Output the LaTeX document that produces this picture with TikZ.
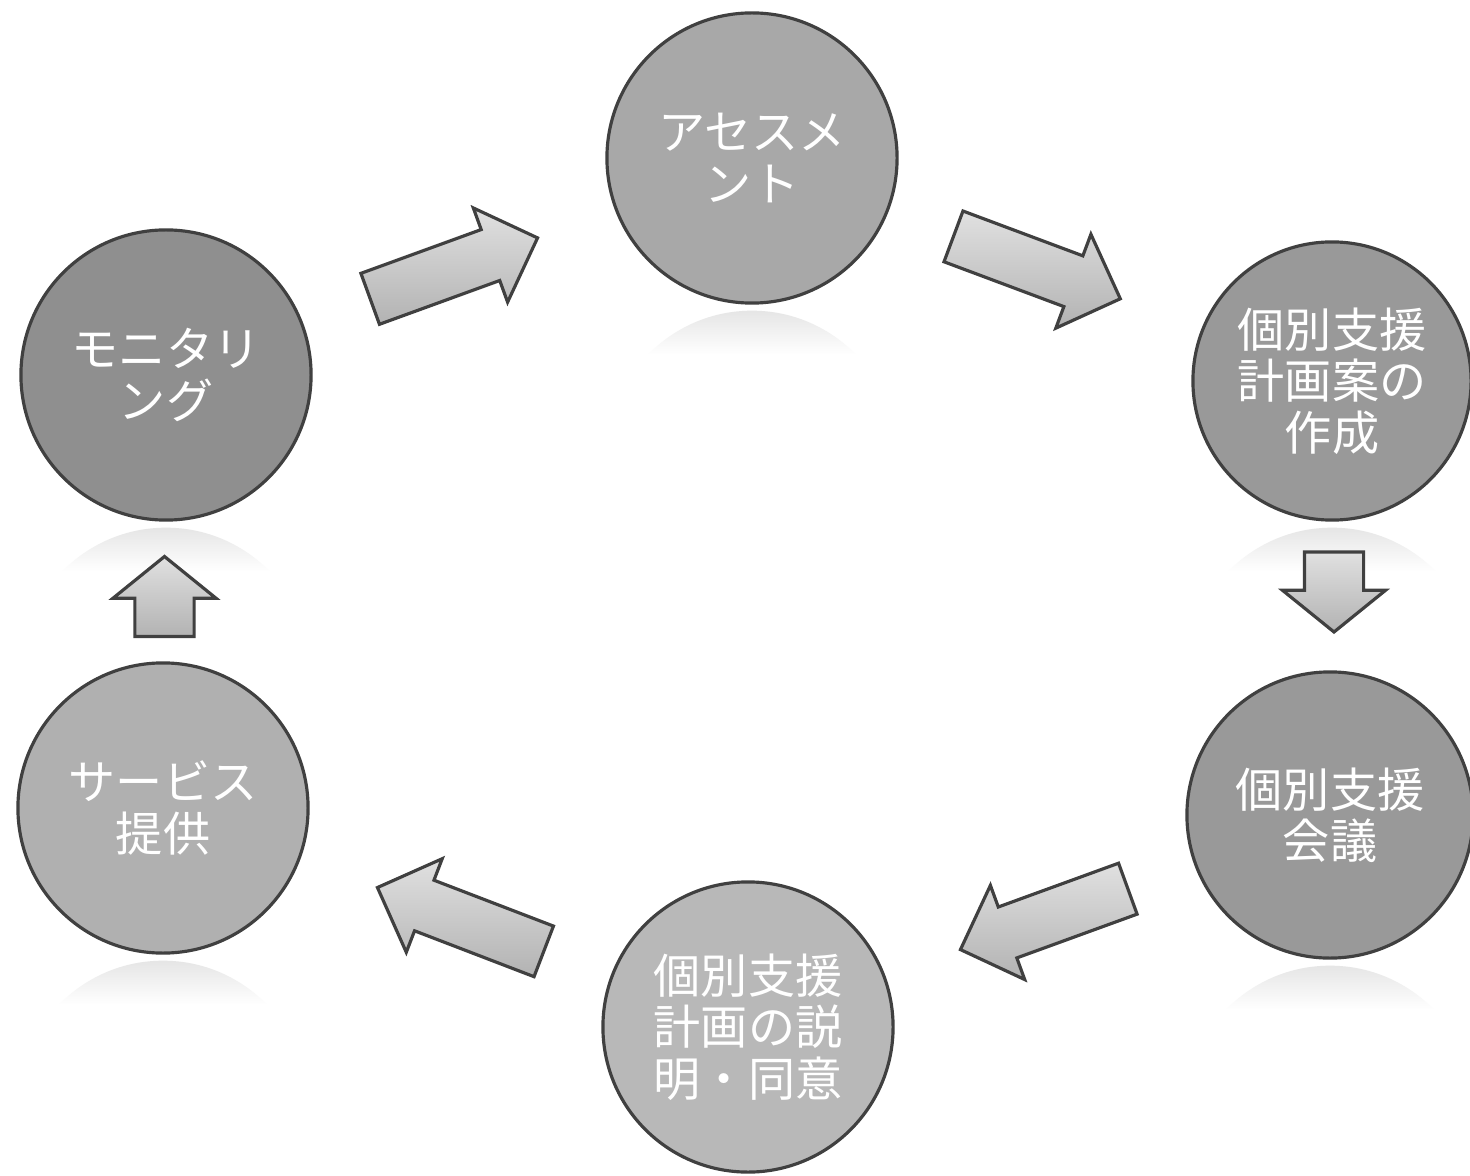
\documentclass[tikz,border=0pt]{standalone}
\usepackage{fontspec}
\setmainfont{Noto Sans CJK JP}
\usetikzlibrary{calc,shapes.arrows}
\tikzset{
  stage/.style={circle, draw=black!75, line width=0.9pt, fill=#1, inner sep=0pt,
    minimum size=2.9cm, align=center, text=white,
    font=\fontsize{13.4pt}{14.6pt}\selectfont},
  flow/.style={single arrow, draw=black!75, line width=0.9pt,
    top color=black!12, bottom color=black!30, shading angle=0,
    inner xsep=0pt, inner ysep=0.255cm, minimum height=1.78cm,
    single arrow head extend=0.23cm, single arrow tip angle=90},
  flowshort/.style={flow, inner ysep=0.28cm, minimum height=0.8cm,
    single arrow head extend=0.22cm, single arrow tip angle=102}
}

\begin{document}
\begin{tikzpicture}[x=0.01cm, y=0.01cm]
  \useasboundingbox[fill=white] (0,0) rectangle (1470,1175);
  % stages of the cycle
  \node[stage=black!34] (assess) at (752,1017) {アセスメ\\ント};
  \node[stage=black!40, minimum size=2.78cm] (plan) at (1332,794) {個別支援\\計画案の\\作成};
  \node[stage=black!40, minimum size=2.86cm] (meeting) at (1330,360) {個別支援\\会議};
  \node[stage=black!28] (explain) at (748,148) {個別支援\\計画の説\\明・同意};
  \node[stage=black!31] (service) at (163,367) {サービス\\提供};
  \node[stage=black!44] (monitor) at (166,800) {モニタリ\\ング};
  % faint reflections under the circles
  \foreach \n in {assess,plan,meeting,service,monitor} {
    \begin{scope}
      \clip ($(\n.south)+(0,-151)$) circle[radius=145];
      \shade[top color=black!10, bottom color=white]
        ($(\n.south)+(-150,-6)$) rectangle ($(\n.south)+(150,-50)$);
    \end{scope}
  }
  % arrows between stages
  \node[flow, rotate=20, xshift=-0.19cm] (a1) at ($(monitor)!0.5!(assess)$) {};
  \node[flow, rotate=-20.5, xshift=-0.19cm] (a2) at ($(assess)!0.5!(plan)$) {};
  \node[flowshort, rotate=-90, xshift=-0.21cm] (a3) at ($(plan)!0.5!(meeting)+(3,-3)$) {};
  \node[flow, rotate=200, xshift=-0.19cm] (a4) at ($(meeting)!0.5!(explain)$) {};
  \node[flow, rotate=159, xshift=-0.19cm] (a5) at ($(explain)!0.5!(service)$) {};
  \node[flowshort, rotate=90, xshift=-0.21cm] (a6) at ($(service)!0.5!(monitor)+(0,4)$) {};
\end{tikzpicture}
\end{document}
